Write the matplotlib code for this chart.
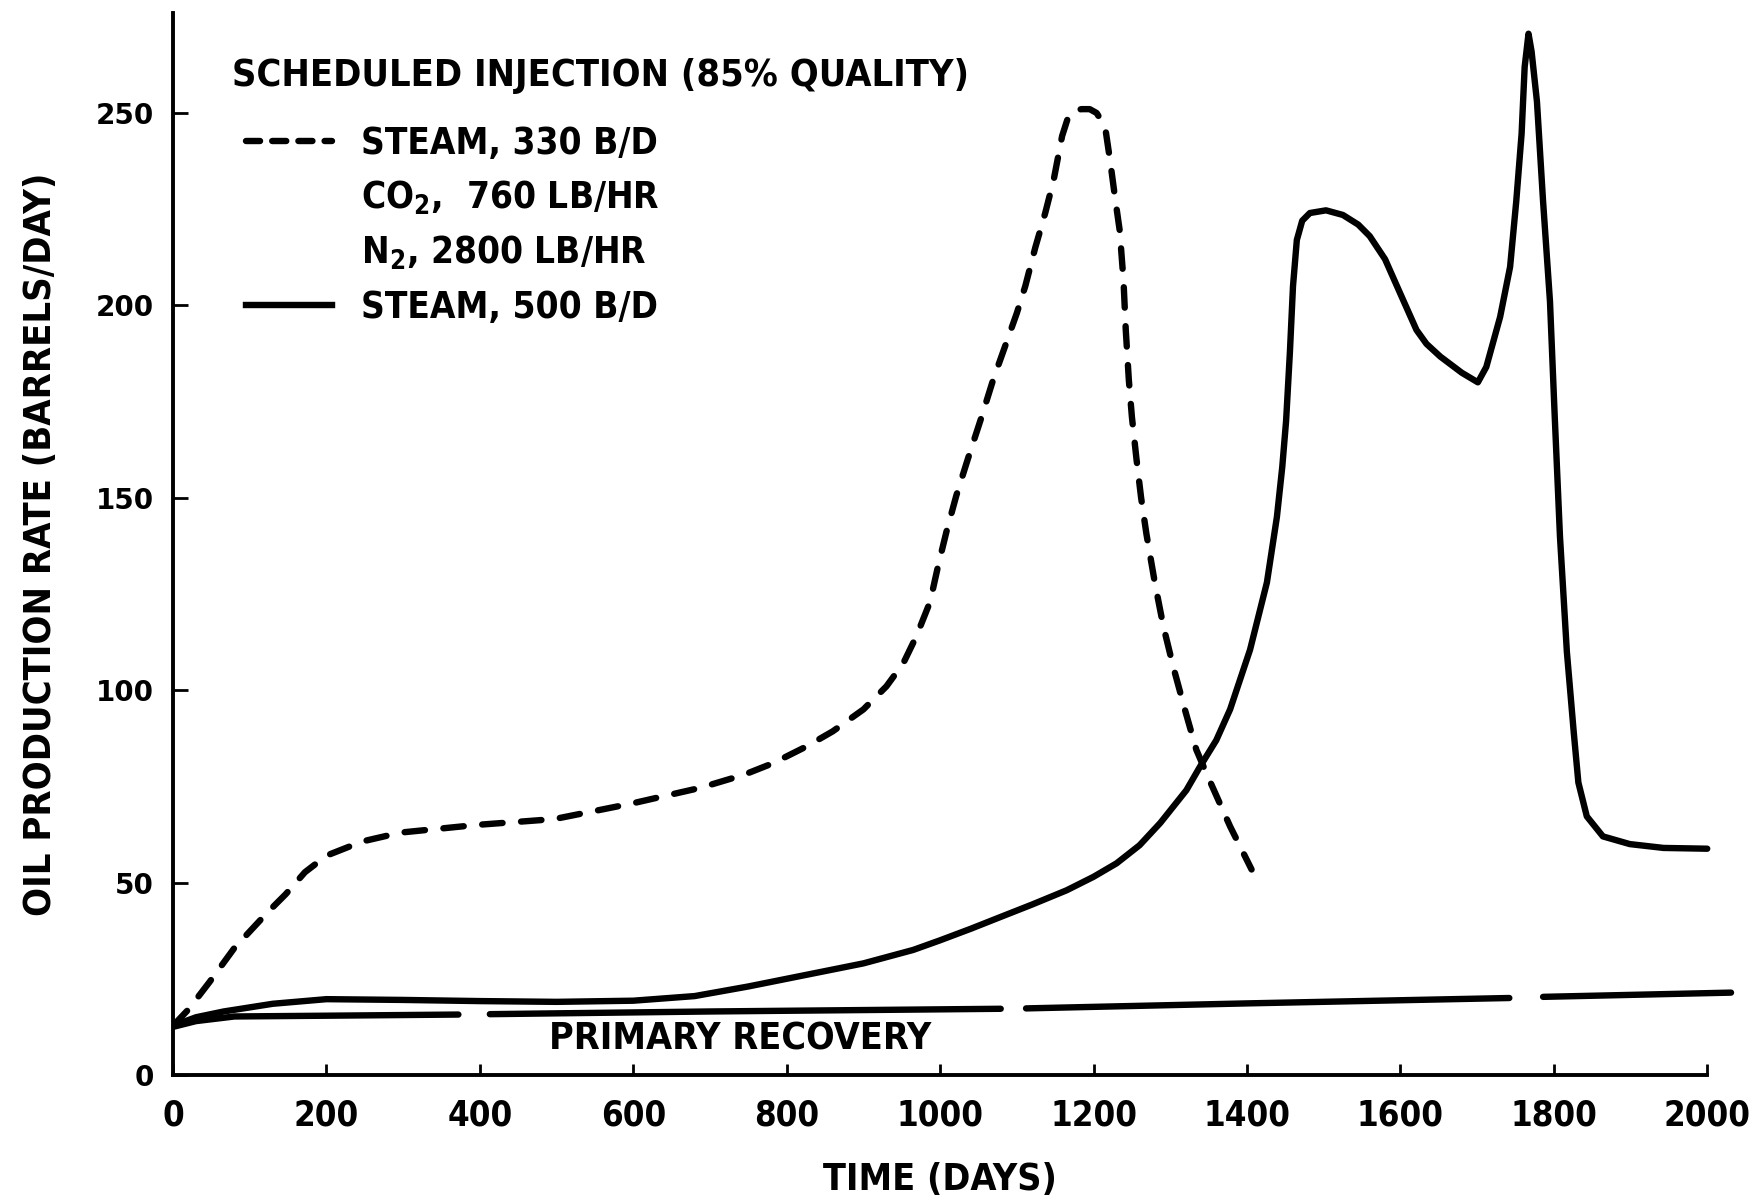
import numpy as np
import matplotlib
matplotlib.use("Agg")
import matplotlib.pyplot as plt
from matplotlib.lines import Line2D
from matplotlib import font_manager as fm

# pick a narrow bold face if one is around, else Liberation Sans
names = {f.name for f in fm.fontManager.ttflist}
cond = [f for f in fm.fontManager.ttflist
        if f.name == 'DejaVu Sans' and 'ondensed' in str(f.stretch)]
if 'Liberation Sans Narrow' in names:
    FAM, STRETCH = 'Liberation Sans Narrow', 'normal'
elif cond:
    FAM, STRETCH = 'DejaVu Sans', 'condensed'
else:
    FAM, STRETCH = 'Liberation Sans', 'normal'

plt.rcParams['font.family'] = [FAM, 'DejaVu Sans']
plt.rcParams['font.stretch'] = STRETCH
plt.rcParams['font.weight'] = 'bold'
plt.rcParams['mathtext.fontset'] = 'custom'
plt.rcParams['mathtext.rm'] = FAM + ':bold'
plt.rcParams['mathtext.bf'] = FAM + ':bold'

# steam 330 B/D + CO2 + N2 (dashed)
mix_days = [0, 20, 47, 80, 122, 147, 172, 200, 247, 297, 397, 497, 597, 687,
            744, 782, 826, 860, 900, 930, 952, 969, 987, 997, 1008, 1021, 1036,
            1054, 1069, 1084, 1100, 1111, 1124, 1137, 1148, 1159, 1167, 1176,
            1185, 1195, 1204, 1215, 1222, 1228, 1234, 1239, 1242, 1246, 1250,
            1256, 1262, 1269, 1280, 1291, 1304, 1319, 1334, 1348, 1378, 1406]
mix_rate = [12.8, 17, 24, 33, 42, 47, 52.7, 57, 60.7, 63, 65, 66.5, 70.5, 74.6,
            78, 81, 85.4, 89.3, 95, 101, 107, 114, 123, 132, 141, 150.5, 160,
            171, 180.6, 189, 198, 205, 215, 224, 232.6, 244, 249, 250.8,
            251, 251, 250, 246.5, 237, 228, 219.6, 206.6, 193.6, 180.6, 171,
            160, 150, 140.5, 127.8, 116.6, 106, 95, 84.5, 78, 64.6, 53.4]

# steam 500 B/D (solid)
steam_days = [0, 30, 66, 130, 200, 300, 400, 500, 600, 680, 750, 800, 900, 965,
              1000, 1040, 1078, 1120, 1165, 1200, 1230, 1260, 1287, 1321, 1339,
              1360, 1378, 1404, 1426, 1439, 1446, 1451, 1456, 1460, 1465, 1472,
              1482, 1503, 1525, 1545, 1560, 1580, 1600, 1621, 1634, 1652, 1680,
              1701, 1712, 1730, 1743, 1751, 1758, 1762, 1767, 1771, 1778, 1786,
              1795, 1801, 1808, 1817, 1826, 1832, 1843, 1864, 1899, 1943, 2000]
steam_rate = [12.8, 15, 16.5, 18.5, 19.7, 19.5, 19.2, 19, 19.3, 20.5, 23, 25, 29, 32.5,
              35, 38, 41, 44.3, 48, 51.5, 55, 59.7, 65.5, 74, 80.2,
              87, 95, 110.5, 128, 145, 158, 170, 188, 205, 217, 222,
              224, 224.7, 223.5, 221, 218, 212, 203, 193.6, 190, 186.7, 182.5,
              180, 184, 197, 210, 227, 244.6, 262, 270.6, 266, 253, 227,
              201, 172, 140, 110, 89, 76, 67.2, 62, 60, 59, 58.8]

# primary recovery (drawn with breaks)
prim_days = [0, 30, 80, 200, 372, np.nan, 413, 700, 1079, np.nan,
             1112, 1400, 1742, np.nan, 1786, 2031]
prim_rate = [12.5, 14, 15.2, 15.4, 15.7, np.nan, 15.8, 16.5, 17.2, np.nan,
             17.3, 18.6, 20.0, np.nan, 20.3, 21.4]

x_ticks = list(range(0, 2001, 200))
y_ticks = [0, 50, 100, 150, 200, 250]

legend_title = 'SCHEDULED INJECTION (85% QUALITY)'
legend_labels = ['STEAM, 330 B/D', r'CO$_{2}$,  760 LB/HR', r'N$_{2}$, 2800 LB/HR',
                 'STEAM, 500 B/D']

fig = plt.figure(figsize=(17.53, 11.98), dpi=100)
ax = fig.add_axes([0.0987, 0.1027, 0.8927, 0.8865])

LW = 4.6
ax.plot(mix_days, mix_rate, color='black', lw=LW, ls=(0, (3.2, 2.9)),
        dash_capstyle='round', solid_capstyle='round')
ax.plot(steam_days, steam_rate, color='black', lw=LW, solid_capstyle='round',
        solid_joinstyle='round')
ax.plot(prim_days, prim_rate, color='black', lw=LW, solid_capstyle='round')

ax.text(739, 9.3, 'PRIMARY RECOVERY', ha='center', va='center', fontsize=27,
        fontweight='bold')

ax.set_xlim(0, 2040)
ax.set_ylim(0, 276)
ax.spines['top'].set_visible(False)
ax.spines['right'].set_visible(False)
ax.spines['left'].set_linewidth(2.8)
ax.spines['bottom'].set_linewidth(2.8)
ax.spines['bottom'].set_bounds(0, 2000)

ax.set_xticks(x_ticks)
ax.set_yticks(y_ticks)
ax.tick_params(direction='in', width=2)
ax.tick_params(axis='x', length=8, pad=17, labelsize=25)
ax.tick_params(axis='y', length=11, pad=14)
for lab in ax.get_yticklabels():
    lab.set_fontfamily('DejaVu Sans')
    lab.set_fontstretch('normal')
    lab.set_fontsize(20)
    lab.set_fontweight('bold')
for lab in ax.get_xticklabels():
    lab.set_fontweight('bold')

ax.set_xlabel('TIME (DAYS)', fontsize=27, fontweight='bold')
ax.xaxis.set_label_coords(1000 / 2040, -0.082)
ax.set_ylabel('OIL PRODUCTION RATE (BARRELS/DAY)', fontsize=27.3,
              fontweight='bold', labelpad=26)

ax.text(0.0377, 0.9407, legend_title, transform=ax.transAxes, ha='left',
        va='center', fontsize=27.2, fontweight='bold')

handles = [Line2D([], [], color='black', lw=LW, ls=(0, (2.2, 1.9)), dash_capstyle='round'),
           Line2D([], [], color='none'),
           Line2D([], [], color='none'),
           Line2D([], [], color='black', lw=LW)]
ax.legend(handles, legend_labels, loc='upper left', bbox_to_anchor=(0.0373, 0.908),
          frameon=False, handlelength=2.34, handletextpad=0.79,
          labelspacing=0.45, borderaxespad=0,
          prop={'size': 26.5, 'weight': 'bold'})

fig.savefig('out.png', dpi=100)
